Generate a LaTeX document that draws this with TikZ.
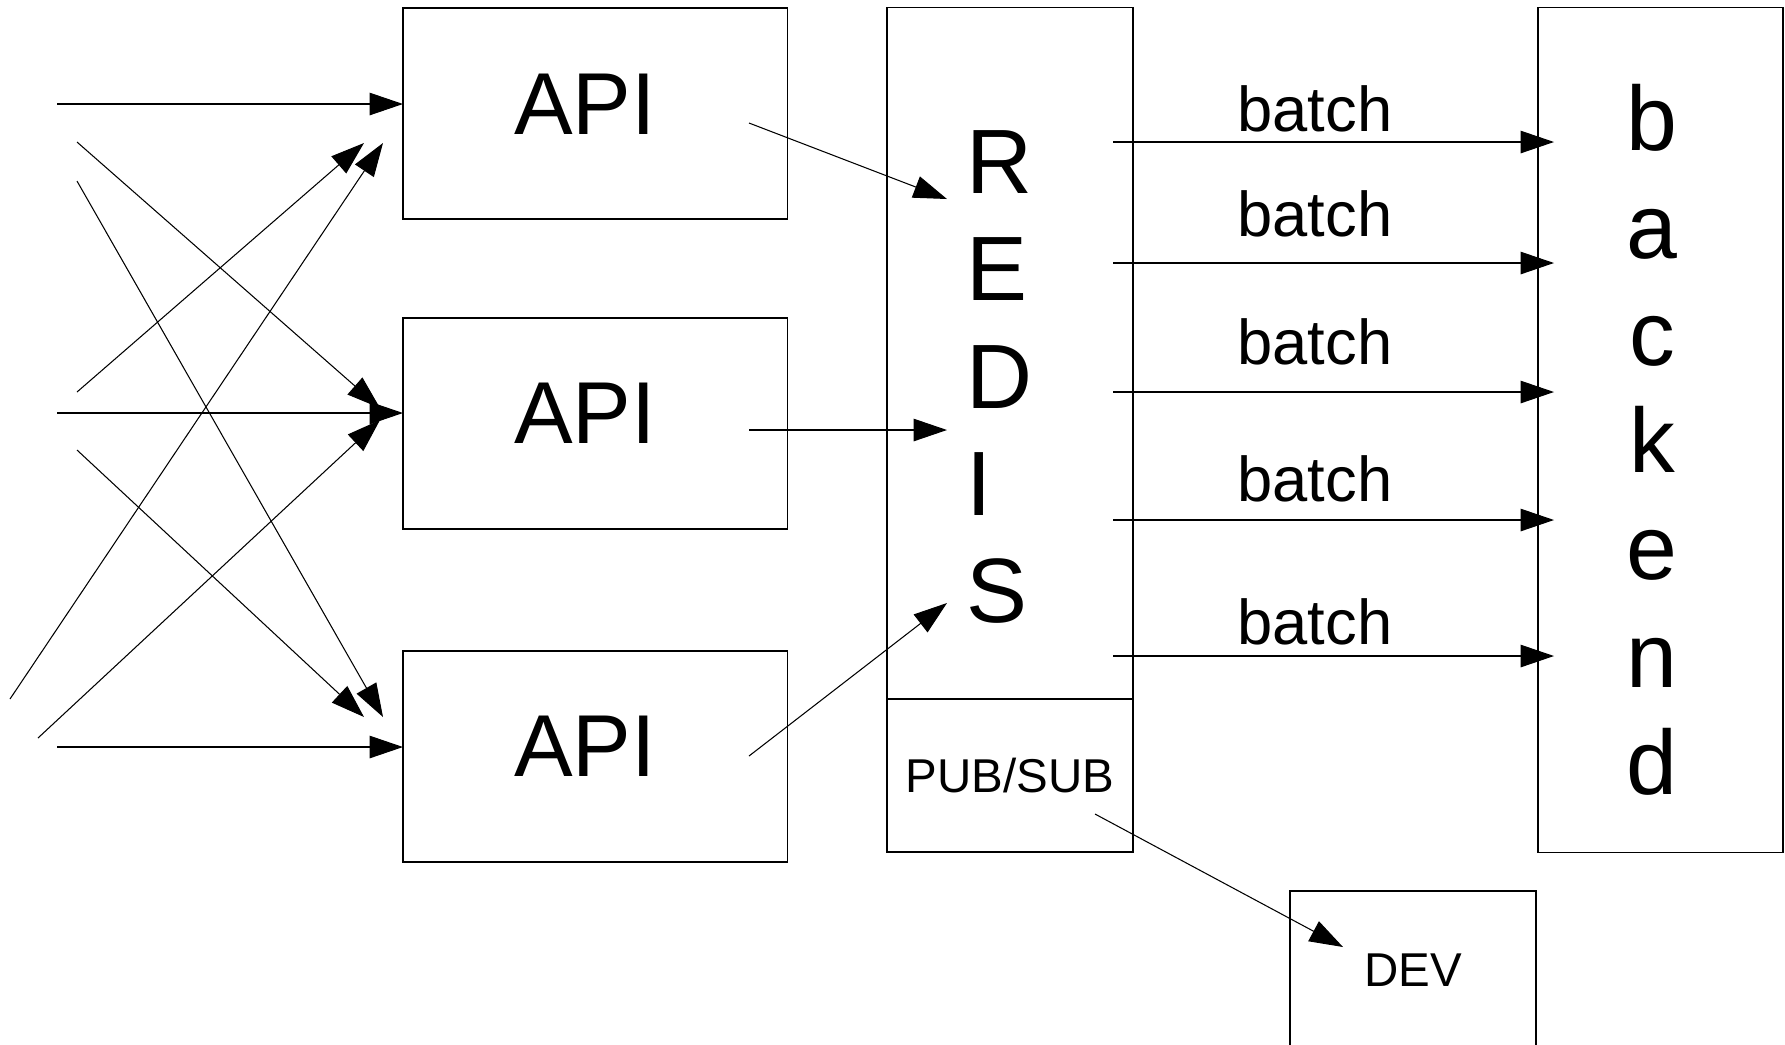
\documentclass[tikz,border=0pt]{standalone}
\usepackage{fontspec}
\setmainfont{Liberation Sans}
\usetikzlibrary{arrows.meta}

\begin{document}
\begin{tikzpicture}[x=0.01cm,
y=-0.01cm,
every node/.style={
rectangle,
align = center,
inner sep=0pt,
outer sep=0pt,
},
box/.style={
draw,
line width=0.35pt,
},
flow/.style={
-{Triangle[length=9.5pt,width=6.4pt]},
line width=0.3pt,
},
huge/.style={font=\fontsize{25}{30.4}\selectfont},
tall/.style={font=\fontsize{26}{30.5}\selectfont},
mid/.style={font=\fontsize{18}{21.6}\selectfont},
small/.style={font=\fontsize{13.5}{16}\selectfont},
]

\useasboundingbox (0,0) rectangle (1785,1044);

%API boxes
\node[box,minimum width=3.84cm,minimum height=2.11cm](api1)at(595,113.5){};
\node[box,minimum width=3.84cm,minimum height=2.11cm](api2)at(595,423.5){};
\node[box,minimum width=3.84cm,minimum height=2.11cm](api3)at(595,756.5){};
\node[huge](api1text)at(585,104){API};
\node[huge](api2text)at(585,413){API};
\node[huge](api3text)at(585,746){API};

%Redis box
\node[box,minimum width=2.46cm,minimum height=6.91cm](redis)at(1010,353.5){};
\node[tall,align=left,anchor=west](redistext)at(966,377){R\\E\\D\\I\\S};
\node[box,small,minimum width=2.46cm,minimum height=1.53cm](pubsub)at(1010,775.5){PUB/SUB};

%backend box
\node[box,minimum width=2.45cm,minimum height=8.44cm](backend)at(1660.5,430){};
\node[tall](backendtext)at(1652,440){b\\a\\c\\k\\e\\n\\d};

%DEV box, runs off the page
\node[box,small,minimum width=2.46cm,minimum height=1.58cm](dev)at(1413,970){DEV};

%incoming requests
\coordinate (i1) at (57,104);  \coordinate (o1) at (403,104);
\coordinate (i2) at (57,413);  \coordinate (o2) at (403,413);
\coordinate (i3) at (57,747);  \coordinate (o3) at (403,747);
\coordinate (i4) at (77,142);  \coordinate (o4) at (380,408);
\coordinate (i5) at (77,181);  \coordinate (o5) at (383,717);
\coordinate (i6) at (77,392);  \coordinate (o6) at (364,143);
\coordinate (i7) at (10,699);  \coordinate (o7) at (383,143);
\coordinate (i8) at (77,450);  \coordinate (o8) at (364,717);
\coordinate (i9) at (38,738);  \coordinate (o9) at (380,420);
\draw[flow] (i1) -- (o1);
\draw[flow] (i2) -- (o2);
\draw[flow] (i3) -- (o3);
\draw[flow] (i4) -- (o4);
\draw[flow] (i5) -- (o5);
\draw[flow] (i6) -- (o6);
\draw[flow] (i7) -- (o7);
\draw[flow] (i8) -- (o8);
\draw[flow] (i9) -- (o9);

%API to redis
\coordinate (a1) at (749,123);  \coordinate (r1) at (947,199);
\coordinate (a2) at (749,430);  \coordinate (r2) at (947,430);
\coordinate (a3) at (749,756);  \coordinate (r3) at (947,603);
\draw[flow] (a1) -- (r1);
\draw[flow] (a2) -- (r2);
\draw[flow] (a3) -- (r3);

%batches to backend
\coordinate (q1) at (1113,142);  \coordinate (k1) at (1554,142);
\coordinate (q2) at (1113,263);  \coordinate (k2) at (1554,263);
\coordinate (q3) at (1113,392);  \coordinate (k3) at (1554,392);
\coordinate (q4) at (1113,520);  \coordinate (k4) at (1554,520);
\coordinate (q5) at (1113,656);  \coordinate (k5) at (1554,656);
\draw[flow] (q1) -- (k1);
\draw[flow] (q2) -- (k2);
\draw[flow] (q3) -- (k3);
\draw[flow] (q4) -- (k4);
\draw[flow] (q5) -- (k5);
\node[mid,anchor=base](batch1)at(1315,131){batch};
\node[mid,anchor=base](batch2)at(1315,236){batch};
\node[mid,anchor=base](batch3)at(1315,364){batch};
\node[mid,anchor=base](batch4)at(1315,501){batch};
\node[mid,anchor=base](batch5)at(1315,644){batch};

%pub/sub to dev
\coordinate (p1) at (1095,814);  \coordinate (d1) at (1343,947);
\draw[flow] (p1) -- (d1);
\end{tikzpicture}
\end{document}
